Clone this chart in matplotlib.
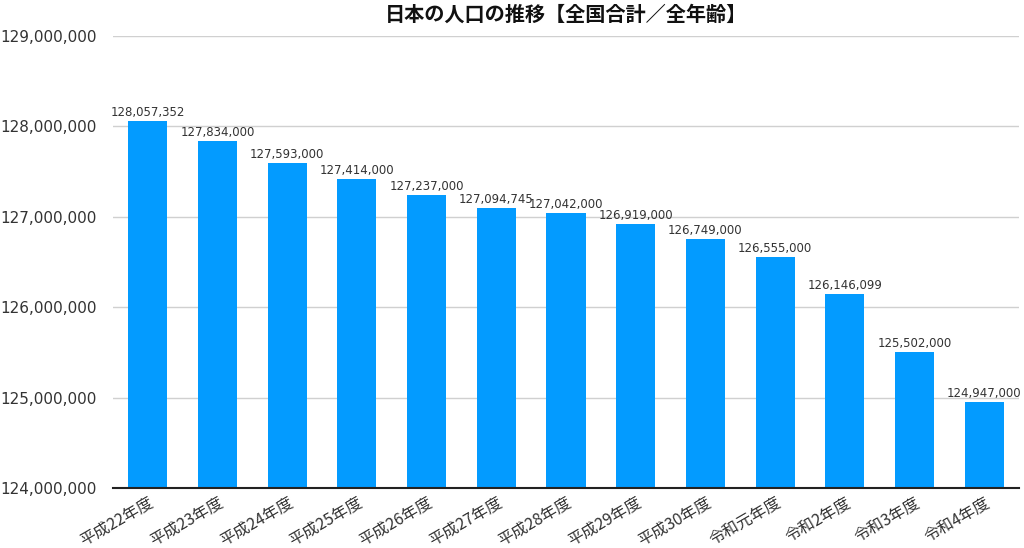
import matplotlib
matplotlib.use("Agg")
import matplotlib.pyplot as plt
from matplotlib.ticker import FuncFormatter

plt.rcParams['font.family'] = ['Noto Sans CJK JP', 'DejaVu Sans']

categories = ["平成22年度", "平成23年度", "平成24年度", "平成25年度", "平成26年度",
              "平成27年度", "平成28年度", "平成29年度", "平成30年度", "令和元年度",
              "令和2年度", "令和3年度", "令和4年度"]
population = [128057352, 127834000, 127593000, 127414000, 127237000,
              127094745, 127042000, 126919000, 126749000, 126555000,
              126146099, 125502000, 124947000]
yticks = [124000000, 125000000, 126000000, 127000000, 128000000, 129000000]
title = "日本の人口の推移【全国合計／全年齢】"

fig = plt.figure(figsize=(10.24, 5.48), dpi=100)
ax = fig.add_axes([113/1024, 1 - 488/548, (1019-113)/1024, (488-36)/548])

x = list(range(len(categories)))
ax.bar(x, population, width=0.56, color="#039BFF", zorder=3)

for xi, v in zip(x, population):
    ax.text(xi, v + 25000, f"{v:,}", ha="center", va="bottom", fontsize=8.5,
            family="DejaVu Sans", color="#333333", zorder=4)

ax.set_ylim(124000000, 129000000)
ax.set_xlim(-0.5, len(categories) - 0.5)
ax.set_yticks(yticks)
ax.yaxis.set_major_formatter(FuncFormatter(lambda v, p: f"{int(v):,}"))
ax.grid(axis="y", color="#d0d0d0", linewidth=1, zorder=0)
ax.set_axisbelow(True)

for s in ["top", "right", "left"]:
    ax.spines[s].set_visible(False)
ax.spines["bottom"].set_color("#222222")
ax.spines["bottom"].set_linewidth(1.5)
ax.spines["bottom"].set_zorder(5)

ax.tick_params(axis="y", length=0, pad=12, labelcolor="#333333")
for lab in ax.get_yticklabels():
    lab.set_family("DejaVu Sans")
    lab.set_fontsize(11)
ax.tick_params(axis="x", length=0, labelsize=11.5, pad=4, labelcolor="#333333")
ax.set_xticks(x)
ax.set_xticklabels(categories, rotation=30, ha="right", rotation_mode="anchor")

fig.text(566/1024, 1 - 14/548, title, ha="center", va="center", fontsize=14.5,
         fontweight="bold", color="#111111")

fig.savefig("out.png", dpi=100)
